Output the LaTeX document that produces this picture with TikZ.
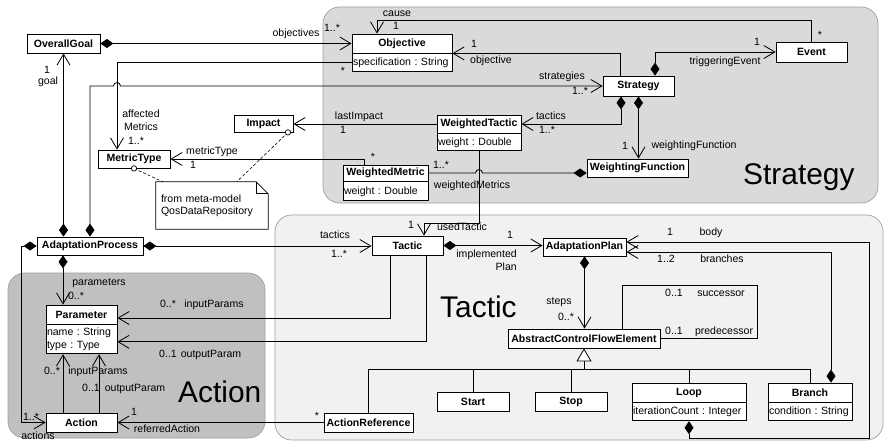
\documentclass[tikz,border=0pt]{standalone}
\usepackage{fontspec}
\setmainfont{Liberation Sans}
\usetikzlibrary{arrows.meta,calc}
\definecolor{pkgStrategy}{RGB}{218,218,218}
\definecolor{pkgTactic}{RGB}{241,241,241}
\definecolor{pkgAction}{RGB}{192,192,192}
\definecolor{pkgEdge}{RGB}{160,160,160}
\frenchspacing

\begin{document}
\begin{tikzpicture}[x=0.3mm, y=-0.3mm,
  every node/.style={font=\fontsize{9}{11}\selectfont},
  cls/.style 2 args={draw, fill=white, line width=0.7pt, inner sep=0pt,
    minimum width=#1, minimum height=#2, font=\fontsize{9}{11}\selectfont\bfseries},
  attr/.style 2 args={draw, fill=white, line width=0.7pt, inner xsep=0.3mm, inner ysep=0pt,
    text width=#1, minimum height=#2, align=left, anchor=north},
  lbl/.style={inner sep=0pt, text height=2.3mm, text depth=0.65mm},
  lbl2/.style={inner sep=0pt, font=\fontsize{9}{11}\selectfont},
  pkgname/.style={inner sep=0pt, anchor=base west, font=\fontsize{25.5}{30}\selectfont},
  pkg/.style={fill=#1, draw=pkgEdge, line width=0.6pt, rounded corners=5mm},
  conn/.style={line width=0.7pt},
  link/.style={conn, -{Straight Barb[length=3.3mm,width=3.9mm]}},
  comp/.style={conn, {Diamond[length=3.9mm,width=2.7mm]}-{Straight Barb[length=3.3mm,width=3.9mm]}},
  compend/.style={conn, -{Diamond[length=3.9mm,width=2.7mm]}},
  gen/.style={conn, -{Triangle[length=3.9mm,width=4.5mm,fill=white]}},
  notelink/.style={line width=0.5pt, dash pattern=on 0.9mm off 0.6mm},
]
\useasboundingbox (0,0) rectangle (885,443);

% packages
\path[pkg=pkgStrategy] (323,7) rectangle (878,203);
\path[pkg=pkgTactic] (275,215) rectangle (883,440);
\path[pkg=pkgAction] (8,273) rectangle (265,438);
\node[pkgname] (pkgS) at (743,184) {Strategy};
\node[pkgname] (pkgT) at (440,317) {Tactic};
\node[pkgname] (pkgA) at (178,402) {Action};

% classes
\node[cls={21.9mm}{5.7mm}] (goal) at (63.5,43.5) {OverallGoal};
\node[cls={30mm}{5.7mm}] (obj) at (402,43.5) {Objective};
\node[attr={29.4mm}{5.4mm}] (objA) at (obj.south) {specification : String};
\node[cls={21.3mm}{6mm}] (ev) at (811.5,52) {Event};
\node[cls={21.3mm}{6mm}] (st) at (638.5,86) {Strategy};
\node[cls={25.2mm}{5.4mm}] (wt) at (479,124) {WeightedTactic};
\node[attr={24.6mm}{5.1mm}] (wtA) at (wt.south) {weight : Double};
\node[cls={30.3mm}{5.4mm}] (wf) at (637.5,168) {WeightingFunction};
\node[cls={25.5mm}{4.8mm}] (wm) at (385.5,173) {WeightedMetric};
\node[attr={24.9mm}{5.7mm}] (wmA) at (wm.south) {weight : Double};
\node[cls={17.7mm}{5.1mm}] (im) at (263.5,123.5) {Impact};
\node[cls={21.6mm}{5.4mm}] (mt) at (134,159) {MetricType};
\node[cls={31.8mm}{5.4mm}] (ap) at (90,246) {AdaptationProcess};
\node[cls={21.3mm}{5.7mm}] (tc) at (407.5,245.5) {Tactic};
\node[cls={24.9mm}{5.4mm}] (pl) at (584.5,247) {AdaptationPlan};
\node[cls={21.3mm}{5.7mm}] (pa) at (81.5,314.5) {Parameter};
\node[attr={20.7mm}{8.7mm}, font=\fontsize{9}{11.3}\selectfont] (paA) at (pa.south) {name : String\\type : Type};
\node[cls={21.3mm}{5.7mm}] (ac) at (81.5,422.5) {Action};
\node[cls={26.7mm}{5.7mm}] (ar) at (368.5,422.5) {ActionReference};
\node[cls={45.6mm}{5.7mm}] (cf) at (584,338.5) {AbstractControlFlowElement};
\node[cls={21.6mm}{5.7mm}] (sa) at (473,401.5) {Start};
\node[cls={21.6mm}{5.7mm}] (so) at (571,401.5) {Stop};
\node[cls={34.2mm}{5.7mm}] (lp) at (689,392.5) {Loop};
\node[attr={33.6mm}{5.4mm}] (lpA) at (lp.south) {iterationCount : Integer};
\node[cls={25.2mm}{5.7mm}] (br) at (810,392.5) {Branch};
\node[attr={24.6mm}{5.4mm}] (brA) at (br.south) {condition : String};

% note attached to Impact and MetricType
\node[inner xsep=1.5mm, inner ysep=0pt, text width=30.6mm, minimum height=14.1mm, align=left,
      font=\fontsize{9}{10.5}\selectfont] (note) at (212,205.5) {from meta-model\\QosDataRepository};
\draw[line width=0.6pt] (note.north west) -- ($(note.north east)+(-12,0)$) -- ($(note.north east)+(0,12)$)
  -- (note.south east) -- (note.south west) -- cycle;
\draw[line width=0.6pt] ($(note.north east)+(-12,0)$) |- ($(note.north east)+(0,12)$);
\coordinate (imc) at ($(im.south)+(24.5,0)$);
\draw[notelink] (mt.south) -- ($(note.north west)+(7,0)$);
\draw[notelink] (imc) -- ($(note.north west)+(81,0)$);
\draw[line width=0.6pt, fill=white] (mt.south) circle[radius=0.8mm];
\draw[line width=0.6pt, fill=white] (imc) circle[radius=0.8mm];

% helper points
\coordinate (amx) at ($(mt.north)+(-17,0)$);
\coordinate (hopA) at (amx |- st.west);
\coordinate (hopB) at (wtA.south |- wm.east);
\coordinate (pz) at ($(ap.south)+(-27,0)$);
\coordinate (aci) at ($(ac.north)+(-18.5,0)$);
\coordinate (aco) at ($(ac.north)+(17.5,0)$);
\coordinate (gbar) at ($(cf.south)+(0,21)$);

% Strategy package associations
\draw[comp] (goal.east) -- (obj.west);
\draw[link] (objA.west) -| (amx);
\draw[comp] (ap.north) |- ($(hopA)+(-3.5,0)$) .. controls +(0,-4.5) and +(0,-4.5) .. ($(hopA)+(3.5,0)$) -- (st.west);
\draw[comp] (goal.south |- ap.north) -- (goal.south);
\draw[link] (ev.north) -- ++(0,-21) -| ($(obj.north)+(-25,0)$);
\draw[link] ($(st.north)+(-18.5,0)$) |- (obj.south east);
\draw[comp] ($(st.north)+(16.5,0)$) |- (ev.west);
\draw[comp] ($(st.south)+(-17.5,0)$) |- (wt.east);
\draw[comp] (st.south) -- (st.south |- wf.north);
\draw[link] (wt.west) -- (wt.west -| im.east);
\draw[link] ($(wm.north west)+(22,0)$) |- (mt.east);
\draw[compend] (wm.east) -- ($(hopB)+(-3.5,0)$) .. controls +(0,-4.5) and +(0,-4.5) .. ($(hopB)+(3.5,0)$) -- (wm.east -| wf.west);
\draw[link] (wtA.south) -- ++(0,72) -| ($(tc.north)+(16.5,0)$);

% Tactic package associations
\draw[comp] (ap.east) -- (ap.east -| tc.west);
\draw[comp] (tc.east) -- (tc.east -| pl.west);
\draw[link] ($(tc.south)+(-17.5,0)$) |- ($(pa.east)+(0,3.5)$);
\draw[link] ($(tc.south)+(18.5,0)$) |- ($(paA.east)+(0,2.5)$);
\draw[comp] (pl.south) -- (pl.south |- cf.north);
\draw[conn] ($(cf.north)+(38,0)$) -- ++(0,-43) -| ($(cf.east)+(97,0)$) -- (cf.east);
\draw[comp] (lpA.south) -- ++(0,17) -| ($(pl.east)+(243,-5)$) -- ($(pl.east)+(0,-5)$);
\draw[comp] ($(br.north)+(21,0)$) |- ($(pl.east)+(0,5)$);
\draw[conn] (ar.north) |- (br.north |- gbar) -- (br.north);
\draw[conn] (sa.north) -- (sa.north |- gbar);
\draw[conn] (so.north) -- (so.north |- gbar);
\draw[conn] (lp.north) -- (lp.north |- gbar);
\draw[gen] (gbar) -- (cf.south);

% Action package associations
\draw[comp] (pz) -- (pz |- pa.north);
\draw[comp] (ap.west) -- ++(-15,0) |- (ac.west);
\draw[link] (aci) -- (aci |- paA.south);
\draw[link] (aco) -- (aco |- paA.south);
\draw[link] (ar.west) -- (ar.west -| ac.east);

% role names and multiplicities
\node[lbl] (lObjectives) at (296,34) {objectives};
\node[lbl] (lObjMult) at (332,29) {1..*};
\node[lbl2, align=center] (lAffected) at (141,120) {affected\\Metrics};
\node[lbl] (lAffMult) at (136,142) {1..*};
\node[lbl] (lAffStar) at (343,72) {*};
\node[lbl] (lGoalMult) at (47,71) {1};
\node[lbl] (lGoal) at (48,82) {goal};
\node[lbl] (lCause) at (397,14) {cause};
\node[lbl] (lCauseMult) at (396,27) {1};
\node[lbl] (lCauseStar) at (820,36) {*};
\node[lbl] (lObjectiveMult) at (474,45) {1};
\node[lbl] (lObjective) at (491,61) {objective};
\node[lbl] (lStrategies) at (562,77) {strategies};
\node[lbl] (lStratMult) at (580,92) {1..*};
\node[lbl] (lTrig) at (725,62) {triggeringEvent};
\node[lbl] (lTrigMult) at (757,43) {1};
\node[lbl] (lWTactics) at (551,117) {tactics};
\node[lbl] (lWTacMult) at (547,131) {1..*};
\node[lbl] (lLastImpact) at (359,117) {lastImpact};
\node[lbl] (lLastMult) at (343,131) {1};
\node[lbl] (lWFun) at (694,146) {weightingFunction};
\node[lbl] (lWFunMult) at (625,147) {1};
\node[lbl] (lMetricType) at (212,152) {metricType};
\node[lbl] (lMetricMult) at (193,166) {1};
\node[lbl] (lWMStar) at (373,158) {*};
\node[lbl] (lWMMult) at (441,166) {1..*};
\node[lbl] (lWM) at (472,186) {weightedMetrics};
\node[lbl] (lUsed) at (462,228) {usedTactic};
\node[lbl] (lUsedMult) at (411,226) {1};
\node[lbl] (lTactics) at (335,236) {tactics};
\node[lbl] (lTacMult) at (339,255) {1..*};
\node[lbl] (lPlanMult) at (510,236) {1};
\node[lbl2, align=right, anchor=east] (lPlan) at (517,260.5) {implemented\\Plan};
\node[lbl] (lSteps) at (559,302) {steps};
\node[lbl] (lStepsMult) at (566,318) {0..*};
\node[lbl] (lSuccMult) at (674,294) {0..1};
\node[lbl] (lSucc) at (721,294) {successor};
\node[lbl] (lPredMult) at (674,332) {0..1};
\node[lbl] (lPred) at (724,332) {predecessor};
\node[lbl] (lBodyMult) at (670,233) {1};
\node[lbl] (lBody) at (711,233) {body};
\node[lbl] (lBrMult) at (666,260) {1..2};
\node[lbl] (lBr) at (722,260) {branches};
\node[lbl] (lParams) at (99,283) {parameters};
\node[lbl] (lParamsMult) at (76,297) {0..*};
\node[lbl] (lInMult) at (168,305) {0..*};
\node[lbl] (lIn) at (214,305) {inputParams};
\node[lbl] (lOutMult) at (168,355) {0..1};
\node[lbl] (lOut) at (211,355) {outputParam};
\node[lbl] (lAInMult) at (52,372) {0..*};
\node[lbl] (lAIn) at (98,372) {inputParams};
\node[lbl] (lAOutMult) at (91,389) {0..1};
\node[lbl] (lAOut) at (135,389) {outputParam};
\node[lbl] (lActMult) at (31,418) {1..*};
\node[lbl] (lActions) at (38,437) {actions};
\node[lbl] (lRefMult) at (134,413) {1};
\node[lbl] (lRef) at (167,430) {referredAction};
\node[lbl] (lRefStar) at (317,417) {*};
\end{tikzpicture}
\end{document}
